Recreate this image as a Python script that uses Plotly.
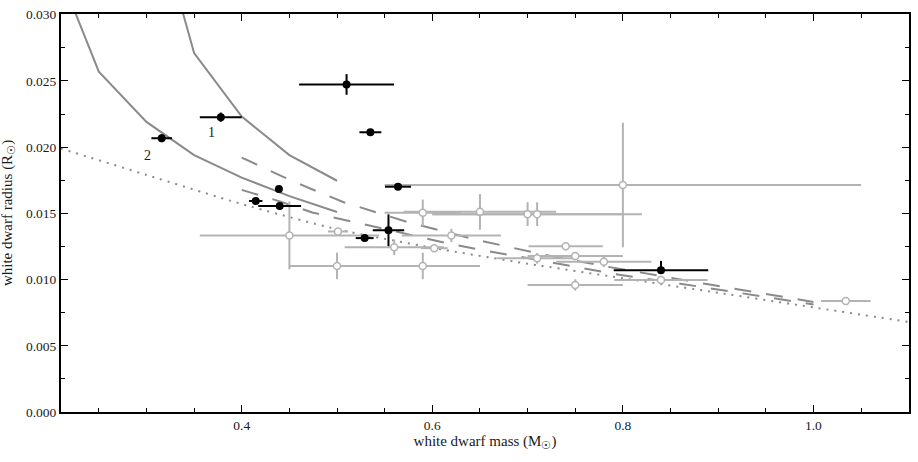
import plotly.graph_objects as go

# ---------------- data ----------------
# model curves (white dwarf mass [Msun], radius [Rsun])
solid_low_m = [0.20, 0.25, 0.30, 0.35, 0.40, 0.45, 0.50]
solid_low_r = [0.0347, 0.0257, 0.0219, 0.0194, 0.0177, 0.0163, 0.0151]
solid_up_m = [0.30, 0.338, 0.35, 0.40, 0.45, 0.50]
solid_up_r = [0.0400, 0.0301, 0.0271, 0.0223, 0.0194, 0.01746]

dash_up_m = [0.400, 0.443, 0.473, 0.507, 0.575, 0.643, 0.713, 0.783, 0.888, 1.000]
dash_up_r = [0.01921, 0.01777, 0.01684, 0.01584, 0.01432, 0.01306, 0.01194, 0.01098, 0.00966, 0.00831]
dash_lo_m = [0.400, 0.441, 0.474, 0.582, 0.617, 0.651, 0.686, 0.721, 0.792, 0.862, 1.000]
dash_lo_r = [0.01677, 0.01588, 0.01506, 0.01328, 0.01272, 0.01224, 0.01177, 0.01135, 0.01041, 0.00967, 0.00812]

dot_m = [0.21, 0.30, 0.40, 0.50, 0.60, 0.70, 0.80, 0.90, 1.00, 1.10]
dot_r = [0.0199, 0.0179, 0.0157, 0.0138, 0.0124, 0.0112, 0.0101, 0.0090, 0.0079, 0.0068]

# literature systems (grey open circles)
grey_m = [0.800, 0.590, 0.700, 0.710, 0.650, 0.450, 0.500, 0.590, 0.501, 0.560,
          0.602, 0.620, 0.740, 0.750, 0.710, 0.780, 0.750, 0.840, 1.034]
grey_r = [0.01714, 0.01504, 0.01494, 0.01494, 0.01511, 0.01333, 0.01103, 0.01103, 0.01363, 0.01244,
          0.01237, 0.01333, 0.01251, 0.01177, 0.01160, 0.01135, 0.00959, 0.00996, 0.00838]
grey_ex = [0.250, 0.040, 0.100, 0.110, 0.080, 0.094, 0.050, 0.060, 0.0105, 0.052,
           0.014, 0.052, 0.039, 0.050, 0.042, 0.050, 0.050, 0.049, 0.026]
grey_ey = [0.0047, 0.0010, 0.0009, 0.0009, 0.00135, 0.00256, 0.0010, 0.0010, 0.0, 0.0006,
           0.0, 0.0005, 0.0003, 0.0003, 0.0004, 0.0004, 0.00043, 0.0, 0.0]

# new systems (black filled circles)
black_m = [0.378, 0.316, 0.439, 0.4147, 0.4398, 0.510, 0.535, 0.564, 0.554, 0.529, 0.840]
black_r = [0.02226, 0.02067, 0.01684, 0.01593, 0.01556, 0.02473, 0.02112, 0.01701, 0.01372, 0.01313, 0.01071]
black_ex = [0.022, 0.0108, 0.0, 0.007, 0.0225, 0.0498, 0.0115, 0.0137, 0.0165, 0.0094, 0.0496]
black_ey_plus = [0.00035, 0.0003, 0.0, 0.0, 0.0002, 0.00078, 0.0001, 0.0002, 0.0012, 0.0, 0.0007]
black_ey_minus = [0.00035, 0.0003, 0.0, 0.0, 0.0002, 0.00078, 0.0001, 0.0002, 0.0012, 0.0, 0.0001]

label_text = ["1", "2"]
label_m = [0.3686, 0.3015]
label_r = [0.02114, 0.01936]

x_ticks = [0.4, 0.6, 0.8, 1.0]
y_ticks = [0.000, 0.005, 0.010, 0.015, 0.020, 0.025, 0.030]

# ---------------- figure ----------------
CURVE = "#8a8a8a"
GREY = "#b3b3b3"
FONT = "Liberation Serif"
TXT = "#1a1a1a"

fig = go.Figure()

fig.add_trace(go.Scatter(x=dot_m, y=dot_r, mode="lines", line=dict(color=CURVE, width=2, dash="2px,6px", shape="spline", smoothing=0.6), hoverinfo="skip"))
fig.add_trace(go.Scatter(x=solid_low_m, y=solid_low_r, mode="lines", line=dict(color=CURVE, width=2), hoverinfo="skip"))
fig.add_trace(go.Scatter(x=solid_up_m, y=solid_up_r, mode="lines", line=dict(color=CURVE, width=2), hoverinfo="skip"))
fig.add_trace(go.Scatter(x=dash_up_m, y=dash_up_r, mode="lines", line=dict(color=CURVE, width=2, dash="17px,15px"), hoverinfo="skip"))
fig.add_trace(go.Scatter(x=dash_lo_m, y=dash_lo_r, mode="lines", line=dict(color=CURVE, width=2, dash="17px,15px"), hoverinfo="skip"))

fig.add_trace(go.Scatter(
    x=grey_m, y=grey_r, mode="markers",
    marker=dict(symbol="circle", size=7, color="white", line=dict(color=GREY, width=1.5)),
    error_x=dict(type="data", array=grey_ex, color=GREY, thickness=2, width=0),
    error_y=dict(type="data", array=grey_ey, color=GREY, thickness=2, width=0),
))

fig.add_trace(go.Scatter(
    x=black_m, y=black_r, mode="markers",
    marker=dict(symbol="circle", size=8, color="black"),
    error_x=dict(type="data", array=black_ex, color="black", thickness=2, width=0),
    error_y=dict(type="data", symmetric=False, array=black_ey_plus, arrayminus=black_ey_minus,
                 color="black", thickness=2, width=0),
))

for t, xm, yr in zip(label_text, label_m, label_r):
    fig.add_annotation(x=xm, y=yr, text=t, showarrow=False, font=dict(family=FONT, size=14, color=TXT))

# y-axis title placed close to the left edge as in the reference
fig.add_annotation(x=-0.0624, y=0.5, xref="paper", yref="paper", xanchor="center", yanchor="middle",
                   text="white dwarf radius (R<sub>☉</sub>)", textangle=-90, showarrow=False,
                   font=dict(family=FONT, size=15, color=TXT))

axis_common = dict(
    showgrid=False, zeroline=False, showline=True, linecolor="black", linewidth=2,
    mirror="allticks", ticks="inside", ticklen=7, tickwidth=1.3, tickcolor="black",
    tickfont=dict(family=FONT, size=13.5, color=TXT),
)

fig.update_xaxes(
    range=[0.2103, 1.1003], tickvals=x_ticks, ticktext=[f"{v:.1f}" for v in x_ticks],
    minor=dict(dtick=0.05, tick0=0, ticks="inside", ticklen=4, tickcolor="black", tickwidth=1.3),
    title=dict(text="white dwarf mass (M<sub>☉</sub>)", font=dict(family=FONT, size=15, color=TXT), standoff=3),
    **axis_common,
)
fig.update_yaxes(
    range=[0.0, 0.03005], tickvals=y_ticks, ticktext=[f"{v:.3f}" for v in y_ticks],
    minor=dict(dtick=0.0025, tick0=0, ticks="inside", ticklen=4, tickcolor="black", tickwidth=1.3),
    **axis_common,
)

fig.update_layout(
    width=918, height=462,
    margin=dict(l=61, r=8, t=7, b=50),
    paper_bgcolor="white", plot_bgcolor="white",
    showlegend=False,
)

fig.write_html("out.html")
